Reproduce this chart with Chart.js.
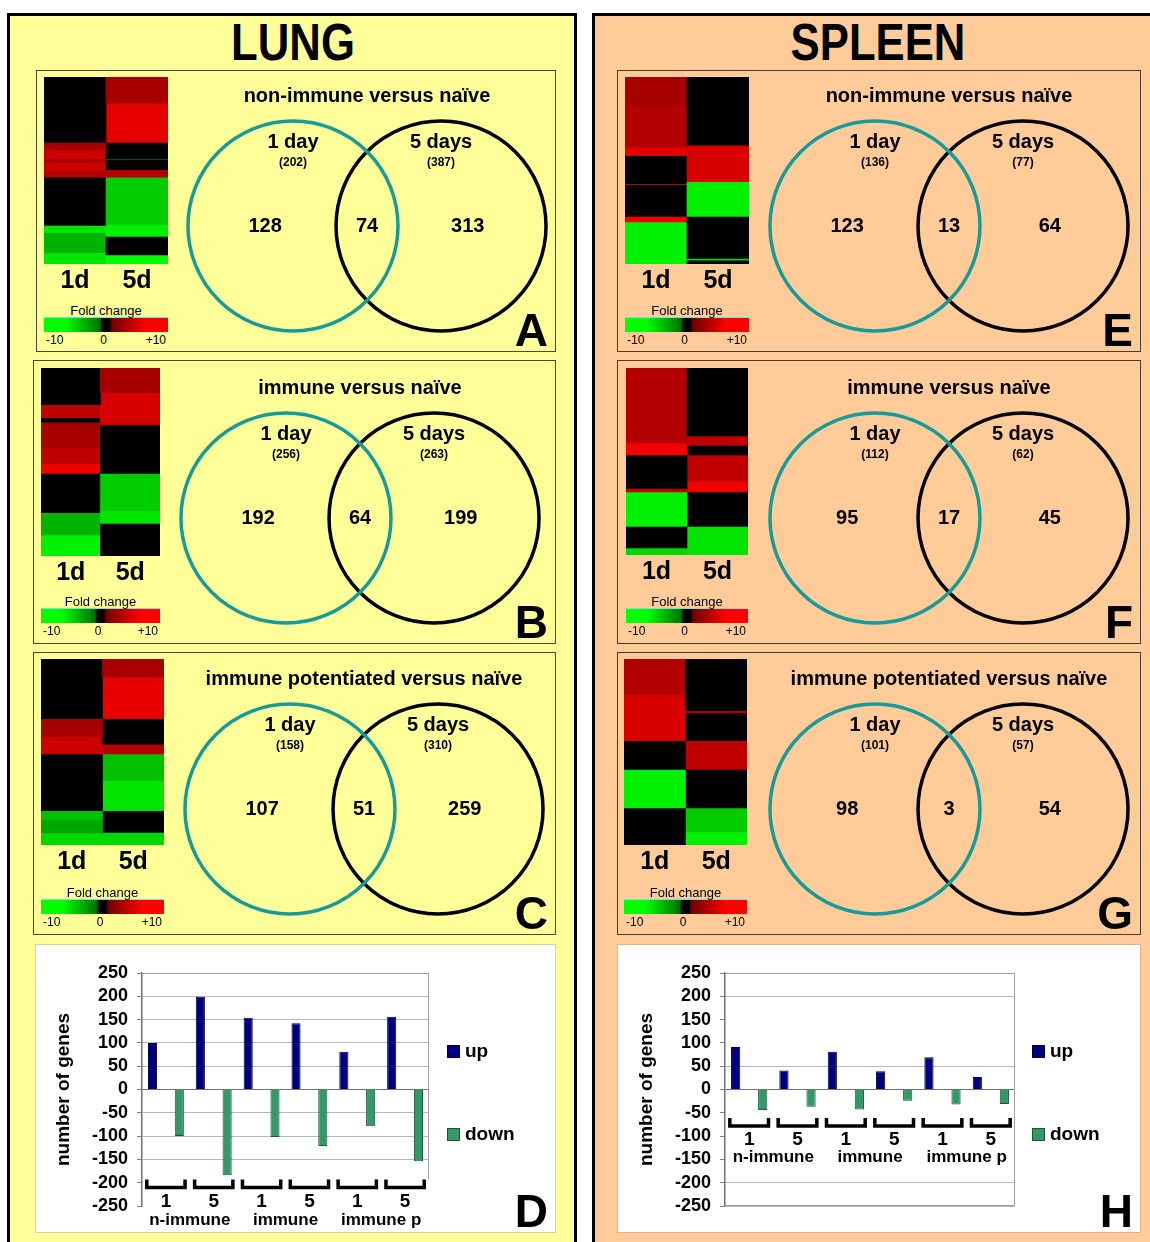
<!DOCTYPE html>
<html>
<head>
<meta charset="utf-8">
<title>Lung and spleen gene expression</title>
<script src="https://cdn.jsdelivr.net/npm/chart.js@4.4.1/dist/chart.umd.min.js"></script>
<style>
  body { margin: 0; background: #fff; }
  #page { position: relative; width: 1150px; height: 1242px; overflow: hidden; font-family: 'Liberation Sans', Arial, sans-serif; color: #000; }
  #page div, #page canvas { position: absolute; }
  .organ { border: 3.5px solid #000; box-sizing: border-box; }
  .sub { box-sizing: border-box; }
</style>
</head>
<body>
<div id="page"></div>
<script>
// ---- values ----
const comparisons = ['non-immune versus naïve', 'immune versus naïve', 'immune potentiated versus naïve'];
const dayLabels = ['1d', '5d'];
const foldTicks = ['-10', '0', '+10'];

// Venn counts, lung = A B C, spleen = E F G
const lungTotal1d = [202, 256, 158];
const lungTotal5d = [387, 263, 310];
const lungOnly1d = [128, 192, 107];
const lungShared = [74, 64, 51];
const lungOnly5d = [313, 199, 259];

const spleenTotal1d = [136, 112, 101];
const spleenTotal5d = [77, 62, 57];
const spleenOnly1d = [123, 95, 98];
const spleenShared = [13, 17, 3];
const spleenOnly5d = [64, 45, 54];

// heat map blocks top to bottom: [genes, fold change], 0 = unchanged (black)
const lungHeat1d = [
  [[180, 0], [20, 3], [25, 4.5], [10, 3], [20, 4.5], [21, 3.5], [133, 0], [20, -5.5], [55, -3.5], [31, -5.5]],
  [[89, 0], [31, 4], [12, 0], [60, 3], [40, 4], [23, 6], [95, 0], [54, -3.5], [51, -6]],
  [[134, 0], [40, 3], [39, 4.5], [127, 0], [20, -4], [30, -3], [27, -5]]
];
const lungHeat5d = [
  [[72, 3], [108, 5.5], [45, 0], [1, -3], [29, 0], [21, 3.5], [130, -4.5], [33, -6], [51, 0], [25, -7]],
  [[60, 3], [73, 5], [5, 4], [117, 0], [90, -4.5], [31, -5.5], [79, 0]],
  [[40, 3], [94, 5.5], [57, 0], [22, 3.5], [60, -4], [67, -5.5], [49, 0], [28, -5]]
];
const spleenHeat1d = [
  [[30, 3], [45, 3.5], [9, 5.5], [30, 0], [1, 4], [34, 0], [6, 6], [45, -6]],
  [[63, 3.5], [10, 6], [28, 0], [3, 4], [29, -6], [18, 0], [6, -5]],
  [[30, 3.5], [38, 5], [24, 0], [32, -6], [31, 0]]
];
const spleenHeat5d = [
  [[73, 0], [39, 5], [37, -6], [45, 0], [2, -5], [4, 0]],
  [[57, 0], [8, 4], [8, 0], [22, 4], [9, 6], [29, 0], [24, -5.5]],
  [[43, 0], [2, 3.5], [23, 0], [24, 4], [32, 0], [20, -4.5], [11, -6]]
];

// bar charts D and H
const barDays = ['1', '5', '1', '5', '1', '5'];
const barGroups = ['n-immune', 'immune', 'immune p'];
const lungUp = [100, 199, 154, 142, 81, 156];
const lungDown = [-100, -184, -102, -121, -79, -154];
const spleenUp = [91, 41, 81, 39, 69, 27];
const spleenDown = [-44, -37, -43, -24, -32, -31];

// ---- layout ----
const FONT = "'Liberation Sans', Arial, sans-serif";
Chart.defaults.font.family = FONT;
Chart.defaults.color = '#000';

const VENN_R = 105;        // px per unit, a circle has radius 1
const VENN_OFFSET = 0.705; // circle centres at +-offset

const lungPanels = [
  { box: [36, 70, 520, 282], heat: [44, 77, 124, 187], venn: [367, 226], letter: 'A' },
  { box: [33, 360, 523, 284], heat: [41, 368, 119, 188], venn: [360, 518], letter: 'B' },
  { box: [33, 652, 523, 283], heat: [41, 659, 123, 186], venn: [364, 809], letter: 'C' }
];
const spleenPanels = [
  { box: [617, 70, 524, 282], heat: [625, 77, 124, 187], venn: [949, 226], letter: 'E' },
  { box: [617, 360, 524, 284], heat: [626, 368, 122, 187], venn: [949, 518], letter: 'F' },
  { box: [617, 652, 524, 283], heat: [624, 659, 123, 186], venn: [949, 809], letter: 'G' }
];

const page = document.getElementById('page');

function el(tag, css, cls) {
  const e = document.createElement(tag);
  if (cls) e.className = cls;
  e.style.cssText = css;
  page.appendChild(e);
  return e;
}

function text(str, x, base, size, opt = {}) {
  const align = opt.align || 'center';
  const w = 600;
  const left = align === 'center' ? x - w / 2 : align === 'right' ? x - w : x;
  const d = el('div', `left:${left}px;top:${base - 0.8465 * size}px;width:${w}px;text-align:${align};` +
    `font-size:${size}px;font-weight:${opt.bold === false ? 'normal' : 'bold'};line-height:1;white-space:nowrap;` +
    (opt.extra || ''));
  d.textContent = str;
  return d;
}

function foldColor(fc) {
  if (fc === 0) return '#000';
  const v = Math.round(90 + 165 * Math.min(1, Math.abs(fc) / 6.5));
  return fc > 0 ? `rgb(${v},0,0)` : `rgb(0,${v},0)`;
}

function foldGradient() {
  const stops = [];
  for (let fc = -10; fc <= 10; fc += 0.5) {
    const c = Math.abs(fc) < 0.6 ? '#000' : foldColor(fc);
    stops.push(`${c} ${((fc + 10) / 20 * 100).toFixed(1)}%`);
  }
  return `linear-gradient(to right, ${stops.join(',')})`;
}

// ---- heat map: stacked bars, one dataset per block ----
function heatChart(rect, col1, col5) {
  const [hx, hy, hw, hh] = rect;
  const c = el('canvas', `left:${hx}px;top:${hy}px;`);
  c.width = hw;
  c.height = hh + 34;
  const n = Math.max(col1.length, col5.length);
  const datasets = [];
  for (let i = 0; i < n; i++) {
    const a = col1[i], b = col5[i];
    datasets.push({
      data: [a ? a[0] : 0, b ? b[0] : 0],
      backgroundColor: [a ? foldColor(a[1]) : '#000', b ? foldColor(b[1]) : '#000'],
      borderWidth: 0,
      barPercentage: 1,
      categoryPercentage: 1
    });
  }
  const total = col1.reduce((s, d) => s + d[0], 0);
  new Chart(c, {
    type: 'bar',
    data: { labels: dayLabels, datasets },
    options: {
      responsive: false, animation: false, events: [],
      layout: { padding: 0 },
      plugins: { legend: { display: false }, tooltip: { enabled: false } },
      scales: {
        x: {
          stacked: true,
          grid: { display: false, drawTicks: false },
          border: { display: false },
          ticks: { color: '#000', padding: 2, font: { size: 25, weight: 'bold' } },
          afterFit(s) { s.height = 34; }
        },
        y: { stacked: true, reverse: true, min: 0, max: total, display: false }
      }
    }
  });

  // fold change colour key
  const top = hy + 240;
  el('div', `left:${hx}px;top:${top}px;width:${hw}px;height:15px;background:${foldGradient()};` +
    `border-top:1px solid #7fdede;box-sizing:border-box;`);
  text('Fold change', hx + hw / 2, top - 2, 13, { bold: false });
  text(foldTicks[0], hx + 2, top + 27.5, 12, { align: 'left', bold: false });
  text(foldTicks[1], hx + hw * 0.48, top + 27.5, 12, { bold: false });
  text(foldTicks[2], hx + hw - 2, top + 27.5, 12, { align: 'right', bold: false });
}

// ---- Venn diagram: two circles on a linear scale ----
const vennLabels = {
  id: 'vennLabels',
  afterDatasetsDraw(chart, args, o) {
    const { ctx, scales: { x, y } } = chart;
    ctx.save();
    ctx.fillStyle = '#000';
    ctx.textAlign = 'center';
    ctx.textBaseline = 'middle';
    o.items.forEach(it => {
      ctx.font = `bold ${it.size}px ${FONT}`;
      ctx.fillText(it.text, x.getPixelForValue(it.x), y.getPixelForValue(it.y));
    });
    ctx.restore();
  }
};

function vennChart(center, t1, t5, only1, shared, only5) {
  const [cx, cy] = center;
  const hw = 185, hh = 138;
  const c = el('canvas', `left:${cx - hw}px;top:${cy - hh}px;`);
  c.width = hw * 2;
  c.height = hh * 2;
  const items = [
    { text: '1 day', x: -VENN_OFFSET, y: 0.8, size: 20 },
    { text: `(${t1})`, x: -VENN_OFFSET, y: 0.6, size: 12 },
    { text: '5 days', x: VENN_OFFSET, y: 0.8, size: 20 },
    { text: `(${t5})`, x: VENN_OFFSET, y: 0.6, size: 12 },
    { text: String(only1), x: -0.97, y: 0, size: 20 },
    { text: String(shared), x: 0, y: 0, size: 20 },
    { text: String(only5), x: 0.96, y: 0, size: 20 }
  ];
  new Chart(c, {
    type: 'scatter',
    data: {
      datasets: [
        { data: [{ x: -VENN_OFFSET, y: 0 }], borderColor: '#179a9a', clip: false },
        { data: [{ x: VENN_OFFSET, y: 0 }], borderColor: '#000', clip: false }
      ]
    },
    options: {
      responsive: false, animation: false, events: [],
      layout: { padding: 0 },
      elements: {
        point: {
          radius: ctx => ctx.chart.scales.x.getPixelForValue(1) - ctx.chart.scales.x.getPixelForValue(0),
          borderWidth: 3.5,
          backgroundColor: 'rgba(0,0,0,0)'
        }
      },
      scales: {
        x: { type: 'linear', min: -hw / VENN_R, max: hw / VENN_R, display: false },
        y: { type: 'linear', min: -hh / VENN_R, max: hh / VENN_R, display: false }
      },
      plugins: { legend: { display: false }, tooltip: { enabled: false }, vennLabels: { items } }
    },
    plugins: [vennLabels]
  });
}

// ---- bar chart D / H ----
const barDecor = {
  id: 'barDecor',
  beforeDatasetsDraw(chart, args, o) {
    const { ctx, chartArea: a, scales: { y } } = chart;
    ctx.save();
    ctx.strokeStyle = '#a0a0a0';
    ctx.lineWidth = 1;
    ctx.beginPath();
    ctx.moveTo(a.left, a.top + 0.5);
    ctx.lineTo(a.right - 0.5, a.top + 0.5);
    ctx.lineTo(a.right - 0.5, o.boxBottom ? a.bottom - 0.5 : y.getPixelForValue(o.bracketTop));
    if (o.boxBottom) ctx.lineTo(a.left, a.bottom - 0.5);
    ctx.stroke();
    ctx.restore();
  },
  afterDatasetsDraw(chart, args, o) {
    const { ctx, scales: { x, y } } = chart;
    const cat = x.getPixelForValue(1) - x.getPixelForValue(0);
    const yt = y.getPixelForValue(o.bracketTop);
    ctx.save();
    ctx.strokeStyle = '#000';
    ctx.lineWidth = 3.5;
    ctx.fillStyle = '#000';
    ctx.textAlign = 'center';
    ctx.textBaseline = 'middle';
    barDays.forEach((d, i) => {
      const cx = x.getPixelForValue(i);
      ctx.beginPath();
      ctx.moveTo(cx - cat * 0.4, yt);
      ctx.lineTo(cx - cat * 0.4, yt + 8);
      ctx.lineTo(cx + cat * 0.4, yt + 8);
      ctx.lineTo(cx + cat * 0.4, yt);
      ctx.stroke();
      ctx.font = `bold 19px ${FONT}`;
      ctx.fillText(d, cx, y.getPixelForValue(o.dayY));
    });
    barGroups.forEach((g, j) => {
      const gx = (x.getPixelForValue(2 * j) + x.getPixelForValue(2 * j + 1)) / 2;
      ctx.font = `bold 17px ${FONT}`;
      ctx.fillText(g, gx, y.getPixelForValue(o.groupY));
    });
    ctx.restore();
  }
};

function barChart(canvasRect, up, down, deco, legendX) {
  const [bx, by, bw, bh] = canvasRect;
  const c = el('canvas', `left:${bx}px;top:${by}px;`);
  c.width = bw;
  c.height = bh;
  const datasets = [
    { label: 'up', data: up, backgroundColor: '#000080', borderColor: '#000033', borderWidth: 1 },
    { label: 'down', data: down, backgroundColor: '#339966', borderColor: '#1b5537', borderWidth: 1 }
  ];
  new Chart(c, {
    type: 'bar',
    data: { labels: barDays, datasets },
    options: {
      responsive: false, animation: false, events: [],
      layout: { padding: { top: 23, bottom: 24, right: 3, left: 0 } },
      datasets: { bar: { categoryPercentage: 1.12, barPercentage: 0.34 } },
      plugins: { legend: { display: false }, tooltip: { enabled: false }, barDecor: deco },
      scales: {
        x: { display: false },
        y: {
          min: -250, max: 250,
          ticks: { stepSize: 50, autoSkip: false, color: '#000', padding: 9, font: { size: 18, weight: 'bold' } },
          grid: {
            color: ctx => {
              const v = ctx.tick.value;
              if (deco.hiddenGrid.includes(v)) return 'rgba(0,0,0,0)';
              return v === 0 ? '#707070' : '#b8b8b8';
            },
            tickLength: 5,
            tickColor: '#808080'
          },
          border: { color: '#707070', width: 1.5 },
          title: { display: true, text: 'number of genes', color: '#000', font: { size: 19, weight: 'bold' }, padding: { top: 12, bottom: 0 } },
          afterFit(s) { s.width = 102; }
        }
      }
    },
    plugins: [barDecor]
  });
  // legend
  const keyY = [1051, 1134];
  datasets.forEach((d, i) => {
    el('div', `left:${legendX}px;top:${keyY[i] - 6}px;width:13px;height:13px;background:${d.backgroundColor};` +
      `border:1px solid ${d.borderColor};box-sizing:border-box;`);
    text(d.label, legendX + 18, keyY[i] + 6.5, 19, {align: 'left'});
  });
}

// ---- build the figure ----
function organ(name, left, width, bg, titleX, panels, sets, subBorder) {
  el('div', `left:${left}px;top:13px;width:${width}px;height:1300px;background:${bg};`, 'organ');
  text(name, titleX, 60, 52, { extra: 'transform:scaleX(0.84);' });
  panels.forEach((p, i) => {
    const [x, y, w, h] = p.box;
    el('div', `left:${x}px;top:${y}px;width:${w}px;height:${h}px;border:1.5px solid ${subBorder};`, 'sub');
    heatChart(p.heat, sets.heat1d[i], sets.heat5d[i]);
    vennChart(p.venn, sets.total1d[i], sets.total5d[i], sets.only1d[i], sets.shared[i], sets.only5d[i]);
    text(comparisons[i], p.venn[0], p.venn[1] - 124, 20);
    text(p.letter, x + w - 8, y + h - 6, 46, { align: 'right' });
  });
}

organ('LUNG', 7, 570, '#ffff99', 293, lungPanels, {
  heat1d: lungHeat1d, heat5d: lungHeat5d, total1d: lungTotal1d, total5d: lungTotal5d,
  only1d: lungOnly1d, shared: lungShared, only5d: lungOnly5d
}, '#4a4a36');
organ('SPLEEN', 592, 580, '#ffcc99', 878, spleenPanels, {
  heat1d: spleenHeat1d, heat5d: spleenHeat5d, total1d: spleenTotal1d, total5d: spleenTotal5d,
  only1d: spleenOnly1d, shared: spleenShared, only5d: spleenOnly5d
}, '#4e3a28');

// D and H boxes
el('div', 'left:35px;top:944px;width:521px;height:289px;background:#fff;border:1.5px solid #d6d690;', 'sub');
el('div', 'left:617px;top:944px;width:524px;height:289px;background:#fff;border:1.5px solid #e2b282;', 'sub');

barChart([40, 950, 392, 280], lungUp, lungDown,
  { bracketTop: -193, dayY: -240, groupY: -281, hiddenGrid: [-200, -250], boxBottom: false }, 447);
barChart([623, 950, 395, 280], spleenUp, spleenDown,
  { bracketTop: -61, dayY: -107, groupY: -146, hiddenGrid: [150, 100, -50, -100, -150], boxBottom: true }, 1032);

text('D', 548, 1227, 46, { align: 'right' });
text('H', 1133, 1227, 46, { align: 'right' });
</script>
</body>
</html>
